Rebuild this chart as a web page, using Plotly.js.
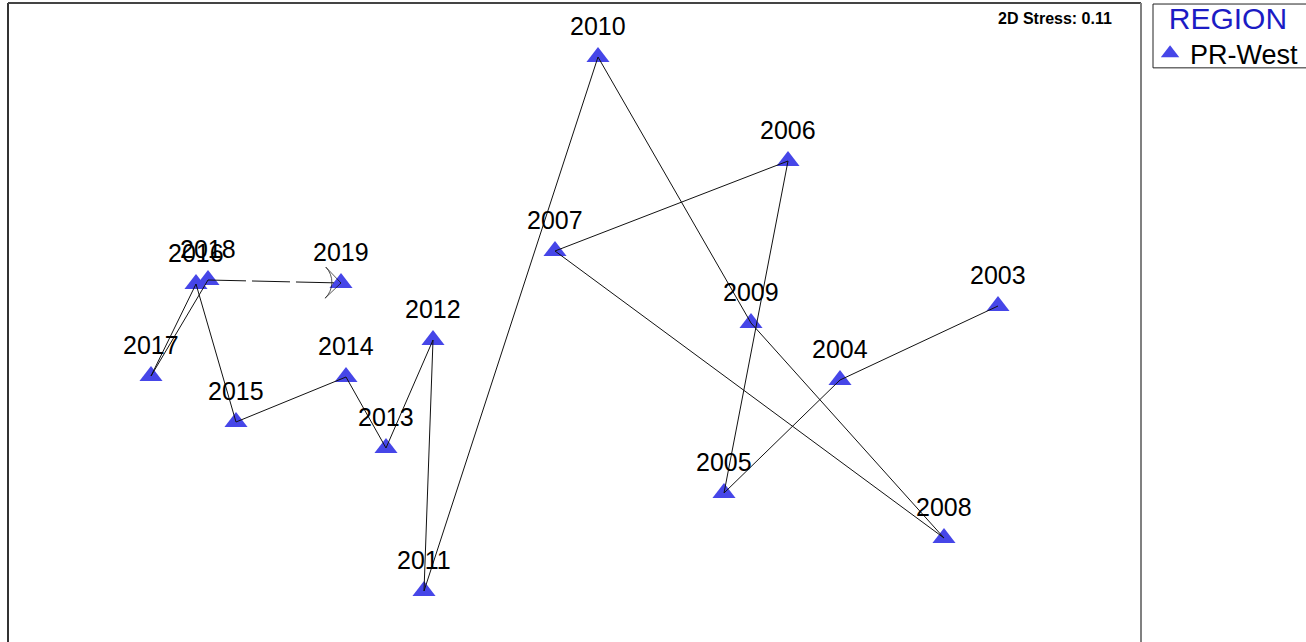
<!DOCTYPE html>
<html>
<head>
<meta charset="utf-8">
<script src="https://cdn.plot.ly/plotly-3.0.1.min.js"></script>
<style>html,body{margin:0;padding:0;background:#fff;}#chart{width:1306px;height:642px;}</style>
</head>
<body>
<div id="chart"></div>
<script>
// nMDS ordination (arbitrary units), trajectory 2003 -> 2019
const years = ['2003','2004','2005','2006','2007','2008','2009','2010','2011','2012','2013','2014','2015','2016','2017','2018','2019'];
const dim1 = [990, 832, 716, 780, 547, 936, 743, 590, 416, 425, 378, 338, 228, 188, 143, 200, 333];
const dim2 = [336, 262, 149, 481, 391, 104, 319, 585, 51, 302, 194, 265, 220, 358, 266, 362, 359];
const groupName = 'PR-West';
const legendTitle = 'REGION';
const stressText = '2D Stress: 0.11';

const n = years.length;
const traces = [
  {
    x: dim1, y: dim2, type: 'scatter', mode: 'markers', name: groupName,
    marker: {symbol: 'triangle-up', size: 20, color: '#4646e8', line: {width: 0}},
    hoverinfo: 'skip', showlegend: true
  },
  {
    x: dim1.slice(0, n - 1), y: dim2.slice(0, n - 1), type: 'scatter', mode: 'lines',
    line: {color: '#111', width: 1}, hoverinfo: 'skip', showlegend: false
  },
  {
    x: dim1.slice(n - 2), y: dim2.slice(n - 2), type: 'scatter', mode: 'lines+markers',
    line: {color: '#111', width: 1, dash: '38px,6px'},
    marker: {symbol: ['circle', 'arrow-wide-open'], size: [0, 22], angleref: 'previous',
             color: '#111', line: {color: '#111', width: 1}},
    hoverinfo: 'skip', showlegend: false
  }
];

const annotations = years.map((t, i) => ({
  x: dim1[i], y: dim2[i], text: t, showarrow: false, yshift: 31, yanchor: 'middle',
  font: {family: 'Arial, Liberation Sans', size: 25, color: '#000'}
}));
annotations.push({
  xref: 'paper', yref: 'paper', x: 0.924, y: 0.976, text: '<b>' + stressText + '</b>', showarrow: false,
  xanchor: 'center', yanchor: 'middle', font: {family: 'Arial, Liberation Sans', size: 16, color: '#000'}
});

const layout = {
  width: 1306, height: 642,
  margin: {l: 8, r: 165, t: 3, b: 0, pad: 0, autoexpand: false},
  paper_bgcolor: '#fff', plot_bgcolor: '#fff',
  xaxis: {range: [0, 1133], showgrid: false, zeroline: false, showticklabels: false, showline: false, ticks: ''},
  yaxis: {range: [0, 639], showgrid: false, zeroline: false, showticklabels: false, showline: false, ticks: ''},
  showlegend: true,
  legend: {
    x: 1.008, y: 1.02, xanchor: 'left', yanchor: 'top',
    borderwidth: 0, bgcolor: 'rgba(0,0,0,0)',
    title: {text: '\u00a0\u00a0' + legendTitle, font: {family: 'Arial, Liberation Sans', size: 30, color: '#1c1cc4'}},
    font: {family: 'Arial, Liberation Sans', size: 27, color: '#000'},
    itemwidth: 30
  },
  annotations: annotations,
  shapes: [
    {type: 'line', xref: 'paper', yref: 'paper', x0: 0, x1: 0, y0: 0, y1: 1, line: {color: '#333', width: 2}},
    {type: 'line', xref: 'paper', yref: 'paper', x0: 0, x1: 1, y0: 1, y1: 1, line: {color: '#444', width: 2}},
    {type: 'line', xref: 'paper', yref: 'paper', x0: 1, x1: 1, y0: 0, y1: 1, line: {color: '#808080', width: 2}},
    {type: 'rect', xref: 'paper', yref: 'paper', x0: 1.0106, x1: 1.2, y0: 0.8985, y1: 0.9984,
     line: {color: '#222', width: 1}, fillcolor: 'rgba(0,0,0,0)'}
  ]
};

Plotly.newPlot('chart', traces, layout, {displayModeBar: false, staticPlot: true});
</script>
</body>
</html>
